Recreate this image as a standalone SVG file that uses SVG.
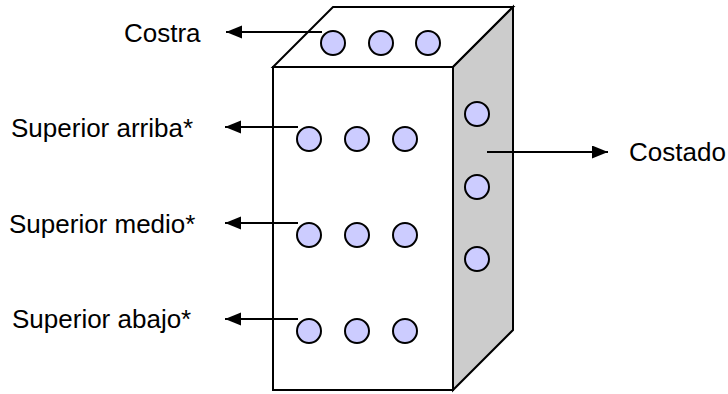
<svg xmlns="http://www.w3.org/2000/svg" width="728" height="394" viewBox="0 0 728 394">
  <style>
    .face { stroke: #000; stroke-width: 2; stroke-linejoin: miter; }
    .front { fill: #fff; }
    .side { fill: #ccc; }
    .dot { fill: #ccf; stroke: #000; stroke-width: 2; }
    .lbl { font-family: "Liberation Sans", Arial, sans-serif; font-size: 26px; fill: #000; }
    .arrow { stroke: #000; stroke-width: 2; fill: none; marker-end: url(#head); }
  </style>
  <defs>
    <marker id="head" markerUnits="userSpaceOnUse" markerWidth="17" markerHeight="14" refX="16" refY="6.5" orient="auto">
      <path d="M0,0 L16,6.5 L0,13 Z" fill="#000"/>
    </marker>
  </defs>
  <rect width="728" height="394" fill="#fff"/>

  <!-- block -->
  <g id="block">
    <polygon class="face front" points="333,7 513,7 453,67 273,67"/>
    <polygon class="face side" points="453,67 513,7 513,330 453,390"/>
    <rect class="face front" x="273" y="67" width="180" height="323"/>
  </g>

  <!-- sample points -->
  <g id="costra-points">
    <circle class="dot" cx="333" cy="43" r="12"/>
    <circle class="dot" cx="381" cy="43" r="12"/>
    <circle class="dot" cx="428" cy="43" r="12"/>
  </g>
  <g id="arriba-points">
    <circle class="dot" cx="309" cy="139" r="12"/>
    <circle class="dot" cx="357" cy="139" r="12"/>
    <circle class="dot" cx="405" cy="139" r="12"/>
  </g>
  <g id="medio-points">
    <circle class="dot" cx="309" cy="235" r="12"/>
    <circle class="dot" cx="357" cy="235" r="12"/>
    <circle class="dot" cx="405" cy="235" r="12"/>
  </g>
  <g id="abajo-points">
    <circle class="dot" cx="309" cy="331" r="12"/>
    <circle class="dot" cx="357" cy="331" r="12"/>
    <circle class="dot" cx="405" cy="331" r="12"/>
  </g>
  <g id="costado-points">
    <circle class="dot" cx="477" cy="114" r="12"/>
    <circle class="dot" cx="477" cy="187" r="12"/>
    <circle class="dot" cx="477" cy="259" r="12"/>
  </g>

  <!-- connectors -->
  <g id="connectors">
    <line class="arrow" x1="322" y1="32" x2="226" y2="32"/>
    <line class="arrow" x1="298" y1="127" x2="225" y2="127"/>
    <line class="arrow" x1="298" y1="223" x2="225" y2="223"/>
    <line class="arrow" x1="298" y1="319" x2="225" y2="319"/>
    <line class="arrow" x1="487" y1="152" x2="608" y2="152"/>
  </g>

  <!-- labels -->
  <g id="label-costra"><text class="lbl" x="124" y="42">Costra</text></g>
  <g id="label-arriba"><text class="lbl" x="11" y="137">Superior arriba*</text></g>
  <g id="label-medio"><text class="lbl" x="9" y="233">Superior medio*</text></g>
  <g id="label-abajo"><text class="lbl" x="12" y="328">Superior abajo*</text></g>
  <g id="label-costado"><text class="lbl" x="629" y="161">Costado</text></g>
</svg>
